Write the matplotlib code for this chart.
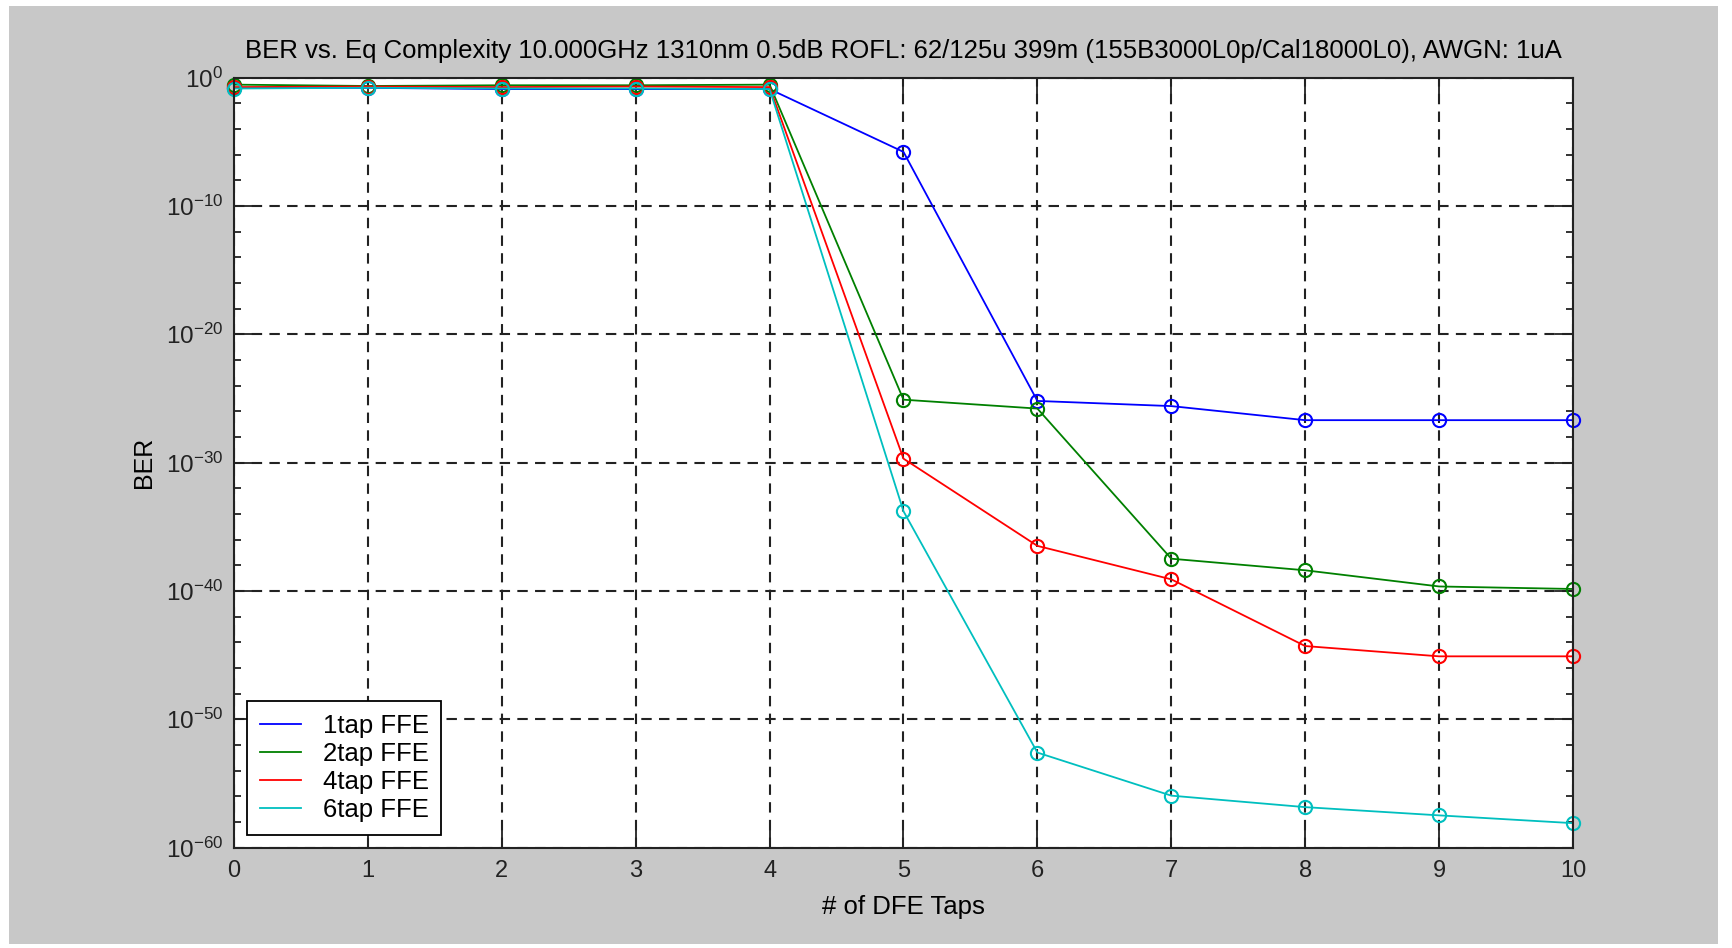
import numpy as np
import matplotlib
matplotlib.use("Agg")
import matplotlib.pyplot as plt
from matplotlib.patches import Rectangle
from matplotlib.ticker import FixedLocator, FixedFormatter

plt.rcParams['font.family'] = ['Liberation Sans', 'DejaVu Sans']
plt.rcParams['mathtext.fontset'] = 'custom'
plt.rcParams['mathtext.rm'] = 'Liberation Sans'
plt.rcParams['mathtext.it'] = 'Liberation Sans'

# BER vs number of DFE taps, one series per FFE length
dfe_taps = [0, 1, 2, 3, 4, 5, 6, 7, 8, 9, 10]
ber_1tap = [0.158, 0.158, 0.126, 0.126, 0.126, 1.6e-6, 6.3e-26, 2.5e-26, 2.0e-27, 2.0e-27, 2.0e-27]
ber_2tap = [0.28, 0.22, 0.25, 0.25, 0.28, 7.9e-26, 1.6e-26, 3.2e-38, 4.0e-39, 2.2e-40, 1.4e-40]
ber_4tap = [0.18, 0.20, 0.18, 0.20, 0.18, 2.0e-30, 3.2e-37, 7.9e-40, 5.0e-45, 7.9e-46, 7.9e-46]
ber_6tap = [0.14, 0.16, 0.14, 0.14, 0.126, 1.6e-34, 2.5e-53, 1.1e-56, 1.4e-57, 3.2e-58, 7.9e-59]

series = [
    ("1tap FFE", ber_1tap, (0, 0, 1)),
    ("2tap FFE", ber_2tap, (0, 0.5, 0)),
    ("4tap FFE", ber_4tap, (1, 0, 0)),
    ("6tap FFE", ber_6tap, (0, 0.75, 0.75)),
]

title = ("BER vs. Eq Complexity 10.000GHz 1310nm 0.5dB ROFL: 62/125u 399m "
         "(155B3000L0p/Cal18000L0), AWGN: 1uA")
major_exp = [0, -10, -20, -30, -40, -50, -60]

fig = plt.figure(figsize=(17.32, 9.48), dpi=100, facecolor='white')
fig.patches.append(Rectangle((0.005, 0.004), 0.987, 0.990, transform=fig.transFigure,
                             facecolor='#c8c8c8', edgecolor='none', zorder=-10))
ax = fig.add_axes([0.1351, 0.106, 0.7731, 0.8122])
ax.set_facecolor('white')

for name, ber, color in series:
    ax.semilogy(dfe_taps, ber, '-', color=color, linewidth=1.3, label=name)
    ax.semilogy(dfe_taps, ber, 'o', color=color, markerfacecolor='none',
                markersize=9.5, markeredgewidth=1.5, clip_on=False)

ax.set_xlim(0, 10)
ax.set_ylim(1e-60, 1)
ax.set_xticks(dfe_taps)
ax.yaxis.set_major_locator(FixedLocator([10.0 ** e for e in major_exp]))
ax.yaxis.set_major_formatter(FixedFormatter(['$10^{%d}$' % e for e in major_exp]))
ax.yaxis.set_minor_locator(FixedLocator([10.0 ** e for e in range(-60, 1, 2)]))
ax.yaxis.set_minor_formatter(FixedFormatter([]))

ax.tick_params(which='both', direction='in', top=True, right=True, colors='#222222')
ax.tick_params(which='major', length=13, width=1.3, pad=9)
ax.tick_params(which='minor', length=5, width=1.3)
ax.tick_params(axis='x', labelsize=17)
ax.tick_params(axis='y', labelsize=17.5, pad=8)
for s in ax.spines.values():
    s.set_linewidth(1.5)
    s.set_color('#222222')

ax.grid(True, which='major', color='#222222', linestyle=(0, (5, 3.5)), linewidth=1.5)

ax.set_title(title, fontsize=18.5, pad=14)
ax.set_xlabel("# of DFE Taps", fontsize=18.5, labelpad=9)
ax.set_ylabel("BER", fontsize=18, labelpad=7)

leg = ax.legend(loc='lower left', fontsize=18.5, frameon=True, fancybox=False,
                edgecolor='black', framealpha=1, handlelength=1.6, borderpad=0.5,
                labelspacing=0.15, borderaxespad=0.5, handletextpad=0.85)
leg.get_frame().set_linewidth(1.3)

fig.savefig("out.png", dpi=100, facecolor=fig.get_facecolor())
